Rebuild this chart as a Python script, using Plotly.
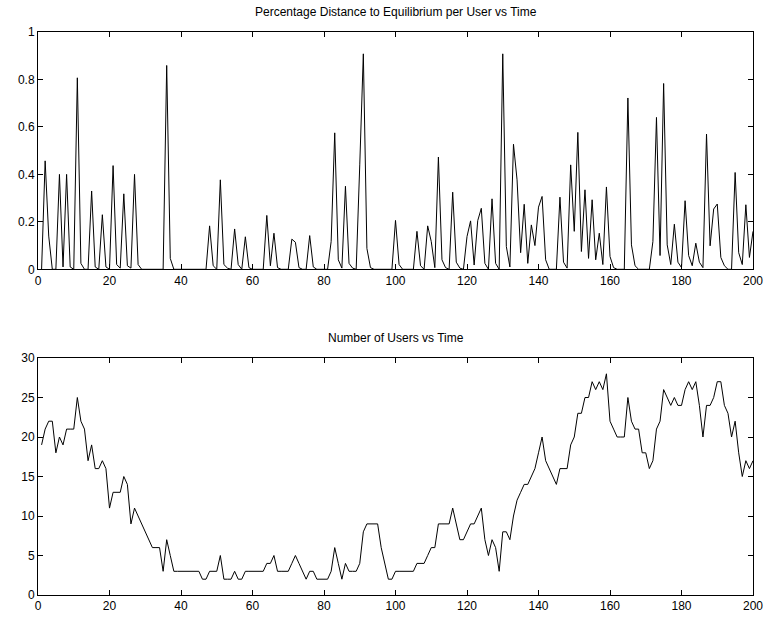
import plotly.graph_objects as go
from plotly.subplots import make_subplots

time_steps = list(range(1, 201))

pct_distance = [
    0, 0.457, 0.14, 0.0, 0, 0.40, 0.01, 0.40, 0.01, 0,
    0.807, 0.025, 0, 0, 0.33, 0.01, 0, 0.23, 0.01, 0,
    0.437, 0.02, 0.005, 0.318, 0.015, 0.005, 0.40, 0.02, 0, 0,
    0, 0, 0, 0, 0, 0.859, 0.046, 0, 0, 0,
    0, 0, 0, 0, 0, 0, 0, 0.183, 0.015, 0,
    0.377, 0.02, 0.005, 0, 0.17, 0.02, 0, 0.137, 0.007, 0,
    0, 0, 0, 0.227, 0.015, 0.152, 0.007, 0, 0, 0,
    0.127, 0.114, 0.007, 0, 0, 0.142, 0.01, 0, 0, 0,
    0, 0.117, 0.575, 0.04, 0.005, 0.35, 0.025, 0.005, 0, 0.44,
    0.908, 0.088, 0.007, 0, 0, 0, 0, 0, 0, 0.206,
    0.02, 0, 0, 0, 0, 0.16, 0.015, 0, 0.183, 0.117,
    0.007, 0.473, 0.04, 0.007, 0, 0.325, 0.03, 0.005, 0, 0.138,
    0.204, 0.018, 0.205, 0.257, 0.025, 0, 0.297, 0.025, 0, 0.908,
    0.096, 0.01, 0.527, 0.377, 0.07, 0.274, 0.025, 0.187, 0.1, 0.262,
    0.307, 0.04, 0, 0, 0, 0.304, 0.03, 0.005, 0.44, 0.16,
    0.577, 0.075, 0.335, 0.046, 0.293, 0.04, 0.152, 0.02, 0.347, 0.054,
    0.007, 0, 0, 0, 0.722, 0.103, 0.015, 0, 0, 0,
    0, 0.117, 0.64, 0.058, 0.783, 0.103, 0.02, 0.19, 0.03, 0.007,
    0.289, 0.058, 0.015, 0.11, 0.03, 0.007, 0.57, 0.099, 0.254, 0.275,
    0.05, 0.015, 0, 0, 0.408, 0.07, 0.02, 0.272, 0.05, 0.16,
]

num_users = [
    19, 21, 22, 22, 18, 20, 19, 21, 21, 21,
    25, 22, 21, 17, 19, 16, 16, 17, 16, 11,
    13, 13, 13, 15, 14, 9, 11, 10, 9, 8,
    7, 6, 6, 6, 3, 7, 5, 3, 3, 3,
    3, 3, 3, 3, 3, 2, 2, 3, 3, 3,
    5, 2, 2, 2, 3, 2, 2, 3, 3, 3,
    3, 3, 3, 4, 4, 5, 3, 3, 3, 3,
    4, 5, 4, 3, 2, 3, 3, 2, 2, 2,
    2, 3, 6, 4, 2, 4, 3, 3, 3, 4,
    8, 9, 9, 9, 9, 6, 4, 2, 2, 3,
    3, 3, 3, 3, 3, 4, 4, 4, 5, 6,
    6, 9, 9, 9, 9, 11, 9, 7, 7, 8,
    9, 9, 10, 11, 7, 5, 7, 6, 3, 8,
    8, 7, 10, 12, 13, 14, 14, 15, 16, 18,
    20, 17, 16, 15, 14, 16, 16, 16, 19, 20,
    23, 23, 25, 25, 27, 26, 27, 26, 28, 22,
    21, 20, 20, 20, 25, 22, 21, 21, 18, 18,
    16, 17, 21, 22, 26, 25, 24, 25, 24, 24,
    26, 27, 26, 27, 24, 20, 24, 24, 25, 27,
    27, 24, 23, 20, 22, 18, 15, 17, 16, 17,
]

x_ticks = [0, 20, 40, 60, 80, 100, 120, 140, 160, 180, 200]
top_y_ticks = [0, 0.2, 0.4, 0.6, 0.8, 1]
bottom_y_ticks = [0, 5, 10, 15, 20, 25, 30]

titles = ["Percentage Distance to Equilibrium per User vs Time", "Number of Users vs Time"]

assert len(pct_distance) == 200 and len(num_users) == 200

W, H = 768, 621
ml, mr, mt, mb = 38, 15, 32, 26
ph = H - mt - mb
top_dom = [(595 - 269.3) / ph, 1.0]
bot_dom = [0.0, (595 - 358) / ph]

FONT = "Liberation Sans, Arial, sans-serif"

fig = make_subplots(rows=2, cols=1)
fig.add_trace(go.Scatter(x=time_steps, y=pct_distance, mode="lines",
                         line=dict(color="black", width=1), showlegend=False), row=1, col=1)
fig.add_trace(go.Scatter(x=time_steps, y=num_users, mode="lines",
                         line=dict(color="black", width=1), showlegend=False), row=2, col=1)

axis_common = dict(showline=True, linecolor="black", linewidth=1, mirror="ticks",
                   ticks="inside", ticklen=5, tickcolor="black", tickwidth=1,
                   showgrid=False, zeroline=False, automargin=False,
                   tickfont=dict(family=FONT, size=12, color="black"))

fig.update_xaxes(range=[0, 200], tickvals=x_ticks, **axis_common)
fig.update_yaxes(**axis_common)
fig.update_yaxes(range=[0, 1], tickvals=top_y_ticks, row=1, col=1)
fig.update_yaxes(range=[0, 30], tickvals=bottom_y_ticks, row=2, col=1)

fig.update_layout(
    width=W, height=H,
    margin=dict(l=ml, r=mr, t=mt, b=mb, autoexpand=False),
    paper_bgcolor="white", plot_bgcolor="white",
    xaxis=dict(domain=[0, 1]), xaxis2=dict(domain=[0, 1]),
    yaxis=dict(domain=top_dom), yaxis2=dict(domain=bot_dom),
    font=dict(family=FONT, size=12, color="black"),
)

for i, t in enumerate(titles):
    fig.add_annotation(text=t, xref="x domain" if i == 0 else "x2 domain",
                       yref="y domain" if i == 0 else "y2 domain",
                       x=0.5, y=1, yanchor="bottom", xanchor="center",
                       yshift=11, showarrow=False,
                       font=dict(family=FONT, size=12, color="black"))

fig.write_html("out.html")
